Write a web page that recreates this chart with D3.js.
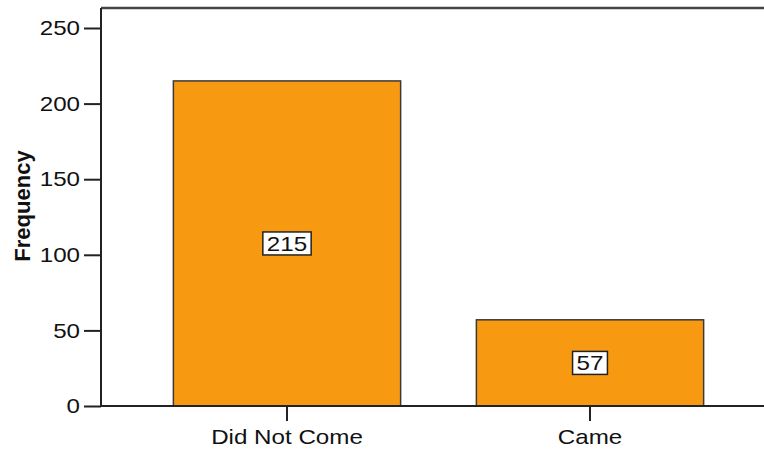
<!DOCTYPE html>
<html lang="en">
<head>
    <meta charset="UTF-8">
    <title>Frequency Bar Chart</title>
    <script src="https://d3js.org/d3.v7.min.js"></script>
    <style>
        html, body {
            margin: 0;
            padding: 0;
            background: #fff;
            overflow: hidden;
        }
        text {
            font-family: "Liberation Sans", Arial, sans-serif;
        }
    </style>
</head>
<body>
    <svg id="chart" width="764" height="451"></svg>
    <script>
        // data
        const categories = ["Did Not Come", "Came"];
        const counts = [215, 57];
        const yTicks = [0, 50, 100, 150, 200, 250];

        const svg = d3.select("#chart");
        const plotLeft = 101, plotBottom = 406, plotTop = 8, plotRight = 764;
        const fontSize = "21px";

        // the original font is a bit wider than Arial, so stretch the glyphs
        function widen(sel) {
            sel.each(function () {
                const len = this.getComputedTextLength();
                d3.select(this)
                    .attr("textLength", len * 1.15)
                    .attr("lengthAdjust", "spacingAndGlyphs");
            });
        }

        const y = d3.scaleLinear().domain([0, 250]).range([plotBottom, 28]);
        const x = d3.scaleBand()
            .domain(categories)
            .range([135.5, 741.5])
            .paddingInner(0.25)
            .paddingOuter(0.125);

        // top frame line
        svg.append("line")
            .attr("x1", plotLeft).attr("x2", plotRight)
            .attr("y1", plotTop).attr("y2", plotTop)
            .attr("stroke", "#444").attr("stroke-width", 2.5);

        // bars
        svg.append("g").selectAll("rect")
            .data(categories)
            .join("rect")
            .attr("x", d => x(d))
            .attr("width", x.bandwidth())
            .attr("y", (d, i) => y(counts[i]))
            .attr("height", (d, i) => plotBottom - y(counts[i]))
            .attr("fill", "#f79a12")
            .attr("stroke", "#3a3a3a")
            .attr("stroke-width", 1.5);

        // y axis
        const yAxis = svg.append("g")
            .attr("transform", `translate(${plotLeft},0)`)
            .call(d3.axisLeft(y).tickValues(yTicks).tickSize(17).tickPadding(4));
        yAxis.select(".domain").attr("d", `M0,${plotTop}V${plotBottom}`).attr("stroke", "#222").attr("stroke-width", 2);
        yAxis.selectAll(".tick line").attr("stroke", "#222").attr("stroke-width", 2);
        yAxis.selectAll(".tick text")
            .attr("fill", "#111")
            .style("font-size", fontSize)
            .call(widen);

        // x axis
        const xAxis = svg.append("g")
            .attr("transform", `translate(0,${plotBottom})`)
            .call(d3.axisBottom(x).tickSize(15).tickPadding(8));
        xAxis.select(".domain").attr("d", `M${plotLeft},0H${plotRight}`).attr("stroke", "#222").attr("stroke-width", 2);
        xAxis.selectAll(".tick line").attr("stroke", "#222").attr("stroke-width", 2);
        xAxis.selectAll(".tick text")
            .attr("fill", "#111")
            .style("font-size", fontSize)
            .call(widen);

        // axis title
        svg.append("text")
            .attr("transform", `translate(30,${(150 + 262) / 2}) rotate(-90)`)
            .attr("text-anchor", "middle")
            .style("font-size", "22px")
            .style("font-weight", "bold")
            .attr("fill", "#111")
            .text("Frequency");

        // value labels in boxes
        const labels = svg.append("g").selectAll("g")
            .data(categories)
            .join("g")
            .attr("transform", (d, i) => `translate(${x(d) + x.bandwidth() / 2},${y(counts[i] / 2)})`);

        labels.append("text")
            .attr("text-anchor", "middle")
            .attr("dy", "0.36em")
            .style("font-size", fontSize)
            .attr("fill", "#111")
            .text((d, i) => counts[i])
            .call(widen);

        labels.each(function () {
            const g = d3.select(this);
            const w = +g.select("text").attr("textLength");
            g.insert("rect", "text")
                .attr("x", -w / 2 - 4)
                .attr("y", -11.5)
                .attr("width", w + 8)
                .attr("height", 23)
                .attr("fill", "#fff")
                .attr("stroke", "#222")
                .attr("stroke-width", 1.5);
        });
    </script>
</body>
</html>
